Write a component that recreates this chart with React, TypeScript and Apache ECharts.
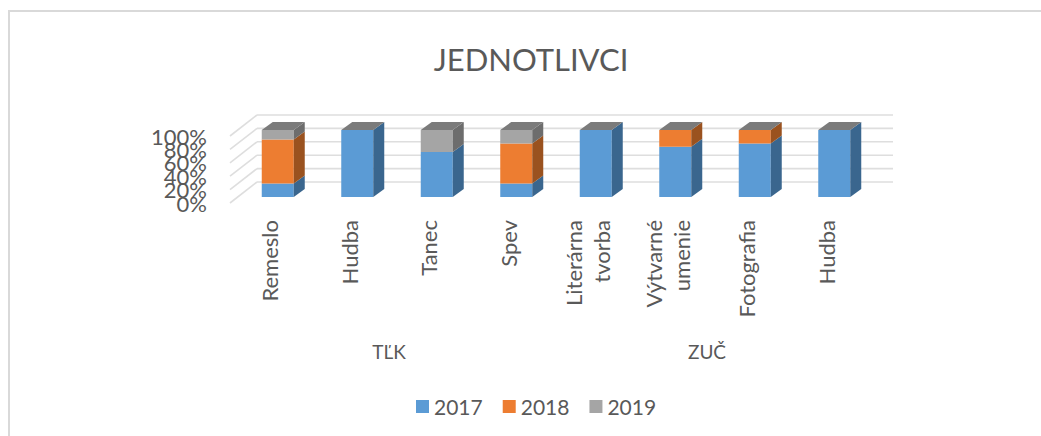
import React, { useEffect, useRef } from "react";
import * as echarts from "echarts";

const categories = ["Remeslo", "Hudba", "Tanec", "Spev", "Literárna\ntvorba", "Výtvarné\numenie", "Fotografia", "Hudba"];
const groups = ["TĽK", "ZUČ"];
const seriesNames = ["2017", "2018", "2019"];
const values2017 = [20, 100, 67, 20, 100, 75, 80, 100];
const values2018 = [66, 0, 0, 60, 0, 25, 20, 0];
const values2019 = [14, 0, 33, 20, 0, 0, 0, 0];
const yTicks = [0, 20, 40, 60, 80, 100];

const frontColors = ["#5b9bd5", "#ed7d31", "#a5a5a5"];
const sideColors = ["#3a668e", "#9a521f", "#6d6d6d"];
const capColor = "#7b7b7b";
const textColor = "#595959";
const gridColor = "#dedede";
const font = "Lato";

const barShiftX = 8;
const barShiftY = -6;
const barWidth = 32;
const depthX = 11;
const depthY = -8;
const wallX = 27;
const wallY = -21;
const tickLabelGap = 23;

function wallRender(_: any, api: any) {
  const v = api.value(0);
  const a = api.coord([0, v]);
  const b = api.coord([categories.length - 1, v]);
  const size = api.size([1, 0])[0];
  const x0 = a[0] - size / 2;
  const x1 = b[0] + size / 2 + wallX;
  const y = a[1];
  const style = { stroke: gridColor, lineWidth: 1.6, fill: "none" };
  return {
    type: "group",
    children: [
      { type: "line", shape: { x1: x0, y1: y, x2: x0 + wallX, y2: y + wallY }, style },
      { type: "line", shape: { x1: x0 + wallX, y1: y + wallY, x2: x1, y2: y + wallY }, style },
      {
        type: "text",
        x: x0 - tickLabelGap,
        y,
        style: {
          text: v + "%",
          align: "right",
          verticalAlign: "middle",
          fontFamily: font,
          fontSize: 22,
          fill: textColor,
        },
      },
    ],
  };
}

function barRender(idx: number) {
  return (_: any, api: any) => {
    const cat = api.value(0);
    const start = api.value(1);
    const end = api.value(2);
    const p0 = api.coord([cat, start]);
    const p1 = api.coord([cat, end]);
    const l = p0[0] - barWidth / 2 + barShiftX;
    const r = l + barWidth;
    const yb = p0[1] + barShiftY;
    const yt = p1[1] + barShiftY;
    const children: any[] = [];
    if (end > start) {
      children.push({ type: "rect", shape: { x: l, y: yt, width: barWidth, height: yb - yt }, style: { fill: frontColors[idx] } });
      children.push({
        type: "polygon",
        shape: { points: [[r, yb], [r + depthX, yb + depthY], [r + depthX, yt + depthY], [r, yt]] },
        style: { fill: sideColors[idx] },
      });
    }
    if (idx === 2) {
      children.push({
        type: "polygon",
        shape: { points: [[l, yt], [r, yt], [r + depthX, yt + depthY], [l + depthX, yt + depthY]] },
        style: { fill: capColor },
      });
    }
    return { type: "group", children };
  };
}

function stacked(idx: number) {
  const arrays = [values2017, values2018, values2019];
  return categories.map((_, i) => {
    let s = 0;
    for (let k = 0; k < idx; k++) s += arrays[k][i];
    return [i, s, s + arrays[idx][i]];
  });
}

export default function App() {
  const ref = useRef<HTMLDivElement>(null);
  useEffect(() => {
    document.body.style.margin = "0";
    const chart = echarts.init(ref.current!, null, { renderer: "svg" });
    chart.setOption({
      animation: false,
      backgroundColor: "#ffffff",
      textStyle: { fontFamily: font },
      title: {
        text: "JEDNOTLIVCI",
        left: 526,
        top: 38,
        textAlign: "center",
        textStyle: { fontFamily: font, fontSize: 31, fontWeight: 400, color: textColor },
      },
      legend: {
        data: seriesNames.map((n, i) => ({ name: n, itemStyle: { color: frontColors[i] } })),
        left: 411,
        top: 391,
        itemWidth: 13,
        itemHeight: 13,
        itemGap: 20,
        icon: "rect",
        textStyle: { fontFamily: font, fontSize: 21, color: textColor },
      },
      grid: { left: 230, top: 136, width: 636, height: 67 },
      xAxis: [
        {
          type: "category",
          data: categories,
          axisLine: { show: false },
          axisTick: { show: false },
          axisLabel: { interval: 0, rotate: 90, margin: 17, fontFamily: font, fontSize: 22, color: textColor, lineHeight: 28 },
        },
        {
          type: "category",
          data: groups,
          position: "bottom",
          offset: 131,
          axisLine: { show: false },
          axisTick: { show: false },
          axisLabel: { interval: 0, margin: 8, fontFamily: font, fontSize: 19, color: textColor },
        },
      ],
      yAxis: {
        type: "value",
        min: 0,
        max: 100,
        interval: 20,
        axisLine: { show: false },
        axisTick: { show: false },
        splitLine: { show: false },
        axisLabel: { show: false },
      },
      graphic: [
        {
          type: "polyline",
          shape: { points: [[9, 436], [9, 11], [1041, 11]] },
          style: { stroke: "#d9d9d9", lineWidth: 2, fill: "none" },
        },
      ],
      series: [
        {
          type: "custom",
          name: "walls",
          renderItem: wallRender,
          data: yTicks.map((v) => [v]),
          encode: { y: 0 },
          silent: true,
          clip: false,
          z: 1,
        },
        ...seriesNames.map((n, i) => ({
          type: "custom",
          name: n,
          renderItem: barRender(i),
          data: stacked(i),
          encode: { x: 0, y: [1, 2] },
          itemStyle: { color: frontColors[i] },
          z: 2 + i,
        })),
      ],
    });
    return () => chart.dispose();
  }, []);
  return <div ref={ref} style={{ width: 1041, height: 436 }} />;
}
